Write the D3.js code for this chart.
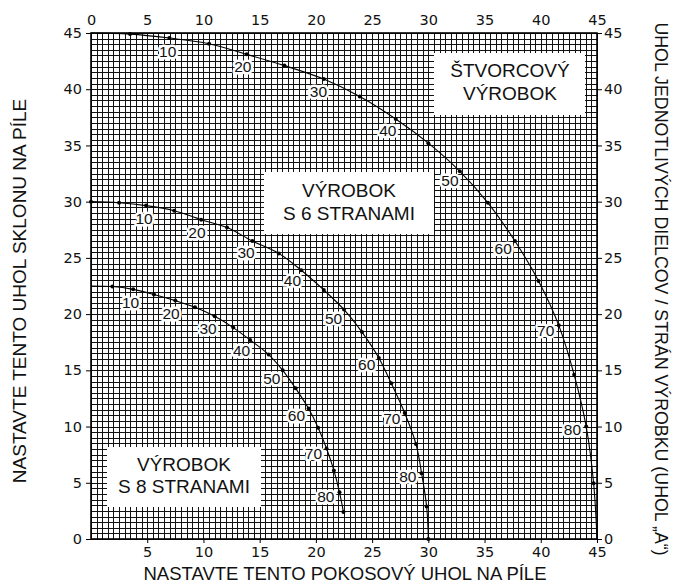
<!DOCTYPE html>
<html><head><meta charset="utf-8">
<script src="https://cdn.jsdelivr.net/npm/d3@7"></script>
<style>
body{margin:0;background:#fff;}
svg{display:block;font-family:"Liberation Sans",Arial,Helvetica,sans-serif;}
</style></head>
<body>
<svg id="c" width="681" height="584"></svg>
<script>
// ---- data ----
const sideAngles = [0,5,10,15,20,25,30,35,40,45,50,55,60,65,70,75,80,85,90];
const squareMiter = [0,3.47,6.97,10.5,13.85,17.2,20.7,23.9,27.1,30.0,32.8,35.3,37.7,39.8,41.6,42.97,44.04,44.7,45];
const squareBevel = [45,44.9,44.55,44.05,43.1,42.1,40.9,39.35,37.35,35.2,32.7,29.9,26.5,22.95,19.0,14.6,10.0,4.95,0];
const hexMiter = [0,2.5,4.9,7.4,9.8,12.1,14.35,16.7,18.7,20.7,22.5,24.1,25.6,26.7,27.9,28.9,29.4,29.85,30];
const hexBevel = [30,29.9,29.65,29.2,28.4,27.7,26.5,25.4,23.9,22.15,20.4,18.4,16.1,13.85,11.2,8.45,5.85,2.9,0];
const octMiter = [0,1.9,3.75,5.6,7.5,9.25,11.0,12.65,14.15,15.8,17.05,18.2,19.35,20.2,20.95,21.6,22.1,22.45];
const octBevel = [22.5,22.45,22.2,21.75,21.2,20.6,19.8,18.8,17.7,16.4,15.0,13.4,11.6,9.9,8.05,6.1,4.15,2.4];
const labeledAngles = [10,20,30,40,50,60,70,80];
const leftTicks = [0,5,10,15,20,25,30,35,40,45];
const topTicks = [0,5,10,15,20,25,30,35,40,45];
const bottomTicks = [5,10,15,20,25,30,35,40,45];
const rightTicks = [0,5,10,15,20,25,30,35,40,45];

const svg = d3.select("#c");
const x = d3.scaleLinear().domain([0,45]).range([91,597]);
const y = d3.scaleLinear().domain([0,45]).range([539,33]);
const px = v => Math.round(v)+0.5;

// grid
const grid = svg.append("g").attr("stroke","#111").attr("stroke-width",1).attr("shape-rendering","crispEdges");
d3.range(0,45.001,0.5).forEach(v=>{
  grid.append("line").attr("x1",px(x(v))).attr("x2",px(x(v))).attr("y1",y(0)).attr("y2",y(45));
  grid.append("line").attr("y1",px(y(v))).attr("y2",px(y(v))).attr("x1",x(0)).attr("x2",x(45));
});
svg.append("rect").attr("x",x(0)).attr("y",y(45)).attr("width",x(45)-x(0)).attr("height",y(0)-y(45))
  .attr("fill","none").attr("stroke","#000").attr("stroke-width",1.6);

// axes
function styleAxis(g){
  g.select(".domain").remove();
  g.selectAll("text").attr("font-size",14.5).attr("fill","#111").attr("font-family","DejaVu Sans, Verdana, sans-serif");
  g.selectAll("line").attr("stroke","#000");
}
svg.append("g").attr("transform",`translate(${x(0)},0)`)
  .call(d3.axisLeft(y).tickValues(leftTicks).tickSize(5).tickPadding(4)).call(styleAxis);
svg.append("g").attr("transform",`translate(${x(45)},0)`)
  .call(d3.axisRight(y).tickValues(rightTicks).tickSize(5).tickPadding(2)).call(styleAxis);
svg.append("g").attr("transform",`translate(0,${y(0)})`)
  .call(d3.axisBottom(x).tickValues(bottomTicks).tickSize(4).tickPadding(4)).call(styleAxis);
svg.append("g").attr("transform",`translate(0,${y(45)})`)
  .call(d3.axisTop(x).tickValues(topTicks).tickSize(0).tickPadding(8)).call(styleAxis);

// text boxes
function box(x0,y0,x1,y1,lines,cx,baselines){
  svg.append("rect").attr("x",x0).attr("y",y0).attr("width",x1-x0).attr("height",y1-y0).attr("fill","#fff");
  lines.forEach((t,i)=>svg.append("text").attr("x",cx).attr("y",baselines[i]).attr("text-anchor","middle")
    .attr("font-size",19).attr("fill","#111").text(t));
}
box(434,53,585,115,["ŠTVORCOVÝ","VÝROBOK"],510,[77,100]);
box(264,172,434,234,["VÝROBOK","S 6 STRANAMI"],349,[197,220]);
box(107,447,261,507,["VÝROBOK","S 8 STRANAMI"],184,[471,493]);

// curves
const curves = [
  {m:squareMiter,b:squareBevel,dotFrom:1,dotTo:17},
  {m:hexMiter,b:hexBevel,dotFrom:0,dotTo:18},
  {m:octMiter,b:octBevel,dotFrom:1,dotTo:17}
];
const line = d3.line().x(d=>x(d[0])).y(d=>y(d[1])).curve(d3.curveCatmullRom.alpha(0.5));
curves.forEach(c=>{
  const pts = c.m.map((v,i)=>[v,c.b[i],sideAngles[i]]);
  svg.append("path").attr("d",line(pts)).attr("fill","none").attr("stroke","#000").attr("stroke-width",1.1);
  svg.append("g").selectAll("circle").data(pts.filter((p,i)=>i>=c.dotFrom&&i<=c.dotTo)).join("circle")
    .attr("cx",d=>x(d[0])).attr("cy",d=>y(d[1])).attr("r",2).attr("fill","#000");
  labeledAngles.forEach(a=>{
    const i = sideAngles.indexOf(a);
    if(i<0||i>=pts.length) return;
    const p0 = pts[Math.max(0,i-1)], p1 = pts[Math.min(pts.length-1,i+1)];
    let tx = x(p1[0])-x(p0[0]), ty = y(p1[1])-y(p0[1]);
    const L = Math.hypot(tx,ty); tx/=L; ty/=L;
    let nx = -ty, ny = tx;
    if(nx>0.01 || ny<0){ nx=-nx; ny=-ny; }
    const lx = x(pts[i][0]) + nx*14, ly = y(pts[i][1]) + ny*12 + 1;
    svg.append("text").attr("x",lx).attr("y",ly).attr("dy","0.36em").attr("text-anchor","middle")
      .attr("font-size",15.5).attr("fill","#111")
      .attr("stroke","#fff").attr("stroke-width",5).attr("stroke-linejoin","round").attr("paint-order","stroke")
      .text(a);
  });
});

// axis titles
svg.append("text").attr("x",345).attr("y",580).attr("text-anchor","middle").attr("font-size",18.5).attr("fill","#111")
  .text("NASTAVTE TENTO POKOSOVÝ UHOL NA PÍLE");
svg.append("text").attr("transform","translate(26,291) rotate(-90)").attr("text-anchor","middle").attr("font-size",19).attr("fill","#111")
  .text("NASTAVTE TENTO UHOL SKLONU NA PÍLE");
svg.append("text").attr("transform","translate(655,289) rotate(90)").attr("text-anchor","middle").attr("font-size",17.8).attr("fill","#111")
  .text("UHOL JEDNOTLIVÝCH DIELCOV / STRÁN VÝROBKU (UHOL „A“)");
</script>
</body></html>
